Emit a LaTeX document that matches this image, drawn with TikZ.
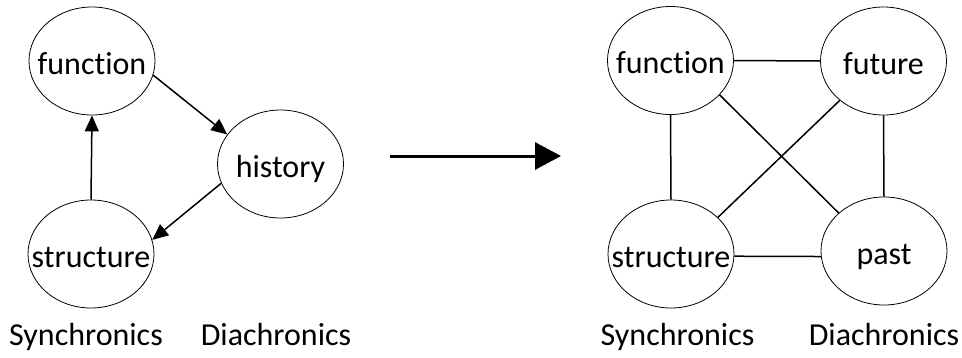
\documentclass[tikz,border=0pt]{standalone}
\usepackage{fontspec}
\setmainfont{Carlito}[Ligatures=NoCommon]
\usetikzlibrary{shapes.geometric,arrows.meta}

\tikzstyle{vertex}=[ellipse,draw,line width=0.8pt,minimum width=126pt,minimum height=108pt,inner sep=0pt,text height=26pt,text depth=0pt,font=\fontsize{32}{38}\selectfont]
\tikzstyle{caption}=[anchor=base,inner sep=0pt,font=\fontsize{32}{38}\selectfont]
\tikzstyle{edge}=[draw,line width=1.5pt,-]
\tikzstyle{arrowdecorate}=[-{Triangle[length=16pt,width=14pt]},line width=1.5pt]
\tikzstyle{bigarrow}=[-{Triangle[length=26pt,width=27pt]},line width=3pt]

\begin{document}
\begin{tikzpicture}[x=1pt,y=-1pt]
  \useasboundingbox (0,0) rectangle (962,357);
  %nodes
  \foreach \nodename/\x/\y/\value in {
    lfunc/92/61/function,
    lhist/280.5/164/history,
    lstruc/91/254/structure,
    rfunc/670.5/60.5/function,
    rfut/883.5/61/future,
    rstruc/671/254/structure,
    rpast/884/251/past}
  {
    \node[vertex] (\nodename) at (\x,\y) {\makebox[0pt]{\value}};
  };
  %captions
  \foreach \nodename/\x/\value in {
    lsync/86/Synchronics, ldia/276/Diachronics,
    rsync/677.5/Synchronics, rdia/884/Diachronics}
  {
    \node[caption] (\nodename) at (\x,345) {\value};
  };
  %left cycle
  \draw[arrowdecorate] (lfunc.-13) -- (lhist.151);
  \draw[arrowdecorate] (lhist.198) -- (lstruc.13);
  \draw[arrowdecorate] (lstruc.north) -- (lfunc.south);
  %big arrow
  \coordinate (from) at (390,156);
  \coordinate (to) at (561,156);
  \draw[bigarrow] (from) -- (to);
  %right edges
  \path
  \foreach \startnode/\endnode in {
    rfunc.east/rfut.west, rfunc.south/rstruc.north, rfut.south/rpast.north,
    rstruc.-2/rpast.185, rfunc.-35/rpast.140, rfut.222/rstruc.38}
  {
    (\startnode) edge[edge] (\endnode)
  };
\end{tikzpicture}
\end{document}
